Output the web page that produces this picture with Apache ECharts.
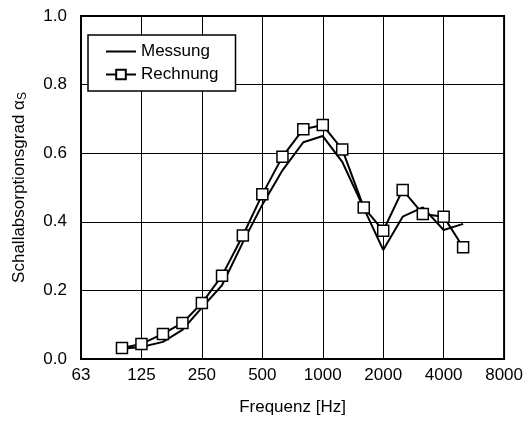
<!DOCTYPE html>
<html><head><meta charset="utf-8">
<script src="https://cdn.jsdelivr.net/npm/echarts@6/dist/echarts.min.js"></script>
<style>html,body{margin:0;padding:0;background:#fff}#c{width:526px;height:426px}</style>
</head><body><div id="c"></div>
<script>
var freqs = [100,125,160,200,250,315,400,500,630,800,1000,1250,1600,2000,2500,3150,4000,5000];
var messung = [0.03,0.035,0.05,0.085,0.15,0.215,0.34,0.45,0.55,0.632,0.65,0.575,0.44,0.318,0.415,0.442,0.376,0.394];
var rechnung = [0.032,0.044,0.073,0.105,0.163,0.243,0.36,0.48,0.59,0.67,0.682,0.611,0.442,0.374,0.493,0.423,0.415,0.326];
var xTickLabels = ['63','125','250','500','1000','2000','4000','8000'];
var yTickLabels = ['0.0','0.2','0.4','0.6','0.8','1.0'];

function pos(f){ return Math.log2(f/1000); }
function pairs(vals){ return freqs.map(function(f,i){ return [pos(f), vals[i]]; }); }
var font = '"Liberation Sans", Arial, sans-serif';

var chart = echarts.init(document.getElementById('c'), null, {renderer:'canvas'});
chart.setOption({
  animation:false,
  backgroundColor:'#fff',
  grid:{left:81, right:20, top:16, bottom:67, show:true, borderColor:'#000', borderWidth:2, containLabel:false},
  legend:{
    orient:'vertical', left:88, top:35,
    backgroundColor:'#fff', borderColor:'#000', borderWidth:1.5, borderRadius:0,
    padding:[8,17,8,17], itemGap:6, itemWidth:30, itemHeight:12,
    textStyle:{fontFamily:font, fontSize:17, color:'#000'},
    data:[
      {name:'Messung', itemStyle:{color:'rgba(0,0,0,0)', borderColor:'rgba(0,0,0,0)', borderWidth:0}, lineStyle:{color:'#000', width:2}},
      {name:'Rechnung'}
    ]
  },
  xAxis:{
    type:'value', min:-4, max:3, interval:1,
    name:'Frequenz [Hz]', nameLocation:'middle', nameGap:40,
    nameTextStyle:{fontFamily:font, fontSize:17, color:'#000'},
    axisLine:{show:true, onZero:false, lineStyle:{color:'#000', width:2}},
    axisTick:{show:false},
    axisLabel:{margin:8, fontFamily:font, fontSize:17, color:'#000',
      formatter:function(v){ var i=Math.round(v+4); return xTickLabels[i]||''; }},
    splitLine:{show:true, lineStyle:{color:'#000', width:1}}
  },
  yAxis:{
    type:'value', min:0, max:1, interval:0.2,
    name:'{a|Schallabsorptionsgrad α}{s|S}', nameLocation:'middle', nameGap:52, nameRotate:90,
    nameTextStyle:{fontFamily:font, fontSize:17, color:'#000',
      rich:{a:{fontFamily:font, fontSize:17, color:'#000'}, s:{fontFamily:font, fontSize:12, color:'#000', verticalAlign:'bottom', padding:[7,0,0,0]}}},
    axisLine:{show:true, onZero:false, lineStyle:{color:'#000', width:2}},
    axisTick:{show:false},
    axisLabel:{margin:14, fontFamily:font, fontSize:17, color:'#000',
      formatter:function(v){ var i=Math.round(v*5); return yTickLabels[i]||''; }},
    splitLine:{show:true, lineStyle:{color:'#000', width:1}}
  },
  series:[
    {name:'Messung', type:'line', data:pairs(messung), symbol:'none', z:3,
     lineStyle:{color:'#000', width:2}, itemStyle:{color:'#000'}},
    {name:'Rechnung', type:'line', data:pairs(rechnung), symbol:'rect', symbolSize:11, z:4,
     lineStyle:{color:'#000', width:2},
     itemStyle:{color:'#fff', borderColor:'#000', borderWidth:1.5}}
  ]
});
</script></body></html>
